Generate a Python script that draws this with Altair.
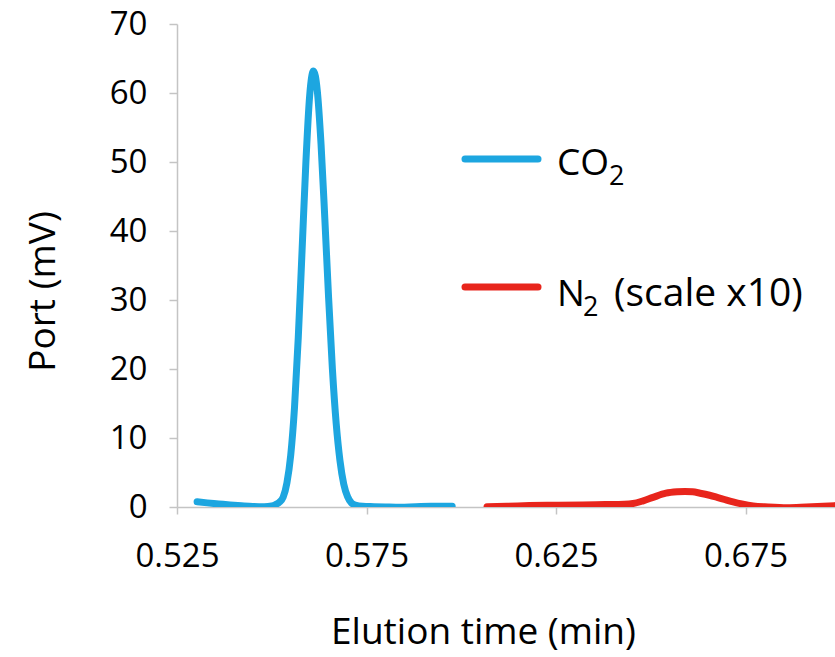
import altair as alt
import pandas as pd

# ---- data ----
co2_time = [0.5303, 0.533, 0.536, 0.539, 0.542, 0.545, 0.548, 0.550, 0.551, 0.552,
            0.553, 0.554, 0.555, 0.556, 0.557, 0.558, 0.559, 0.560, 0.561, 0.562,
            0.563, 0.564, 0.565, 0.566, 0.567, 0.568, 0.569, 0.570, 0.571, 0.572,
            0.574, 0.577, 0.580, 0.584, 0.588, 0.592, 0.5976]
co2_mv = [0.75, 0.6, 0.45, 0.3, 0.18, 0.08, 0.05, 0.15, 0.35, 0.7,
          1.4, 3.5, 7.5, 14.4, 24.6, 37.2, 49.9, 59.6, 63.2, 60.4,
          52.6, 41.8, 30.3, 20.0, 12.1, 6.7, 3.3, 1.5, 0.6, 0.3,
          0.1, 0.05, 0.0, -0.05, 0.05, 0.1, 0.1]

n2_time = [0.6068, 0.612, 0.618, 0.625, 0.632, 0.638, 0.643, 0.6453, 0.648, 0.6506,
           0.654, 0.657, 0.659, 0.661, 0.663, 0.6655, 0.6675, 0.6697, 0.6717, 0.674,
           0.677, 0.681, 0.686, 0.691, 0.6986]
n2_mv = [0.05, 0.1, 0.2, 0.25, 0.3, 0.35, 0.4, 0.5, 0.9, 1.4,
         2.0, 2.2, 2.25, 2.2, 2.0, 1.7, 1.4, 1.05, 0.75, 0.45,
         0.15, 0.0, -0.1, 0.0, 0.2]

series_names = ["CO2", "N2"]
series_colors = ["#1DA6E0", "#E8251C"]
x_ticks = [0.525, 0.575, 0.625, 0.675]
y_ticks = [0, 10, 20, 30, 40, 50, 60, 70]

df = pd.concat([
    pd.DataFrame({"time": co2_time, "mv": co2_mv, "series": "CO2"}),
    pd.DataFrame({"time": n2_time, "mv": n2_mv, "series": "N2"}),
])

FONT = "Open Sans"
AX = "#C4C4C4"

lines = alt.Chart(df).mark_line(strokeWidth=7, strokeCap="round", strokeJoin="round",
                                interpolate="monotone", clip=True).encode(
    x=alt.X("time:Q", scale=alt.Scale(domain=[0.525, 0.6986], nice=False, zero=False),
            axis=alt.Axis(values=x_ticks, format=".3f", title="Elution time (min)",
                          tickSize=7, labelPadding=26, labelFlush=False,
                          titleX=306, titleY=136,
                          titleBaseline="alphabetic", titleAlign="center")),
    y=alt.Y("mv:Q", scale=alt.Scale(domain=[0, 70], nice=False),
            axis=alt.Axis(values=y_ticks, format="d", title="Port (mV)",
                          tickSize=8, labelPadding=22, labelFlush=False,
                          titleX=-123, titleY=267,
                          titleBaseline="alphabetic", titleAlign="center", titleAngle=-90)),
    color=alt.Color("series:N", scale=alt.Scale(domain=series_names, range=series_colors),
                    legend=None),
    detail="series:N",
)

one = pd.DataFrame({"k": [0]})

def leg_line(y, color):
    return alt.Chart(one).mark_rule(strokeWidth=7, strokeCap="round", color=color).encode(
        x=alt.value(288), x2=alt.value(361), y=alt.value(y))

def leg_text(x, y, txt, size):
    return alt.Chart(one).mark_text(align="left", baseline="alphabetic", font=FONT,
                                    fontSize=size, color="black").encode(
        x=alt.value(x), y=alt.value(y), text=alt.value(txt))

legend = [
    leg_line(135, series_colors[0]),
    leg_text(380, 151, "CO", 37),
    leg_text(432, 161, "2", 27),
    leg_line(263, series_colors[1]),
    leg_text(380, 282, "N", 37),
    leg_text(406, 292, "2", 27),
    leg_text(437, 282, "(scale x10)", 39),
]

chart = alt.layer(lines, *legend).properties(
    width=658, height=483,
    autosize=alt.AutoSizeParams(type="none"),
    padding={"left": 177, "top": 24, "right": 0, "bottom": 150},
).configure_view(stroke=None).configure_axis(
    grid=False, domainColor=AX, tickColor=AX, domainWidth=1.5, tickWidth=1.5,
    labelFont=FONT, labelFontSize=33, labelColor="black",
    titleFont=FONT, titleFontSize=37, titleColor="black", titleFontWeight="normal",
)

chart.save("out.html", embed_options={"renderer": "svg", "actions": False})
